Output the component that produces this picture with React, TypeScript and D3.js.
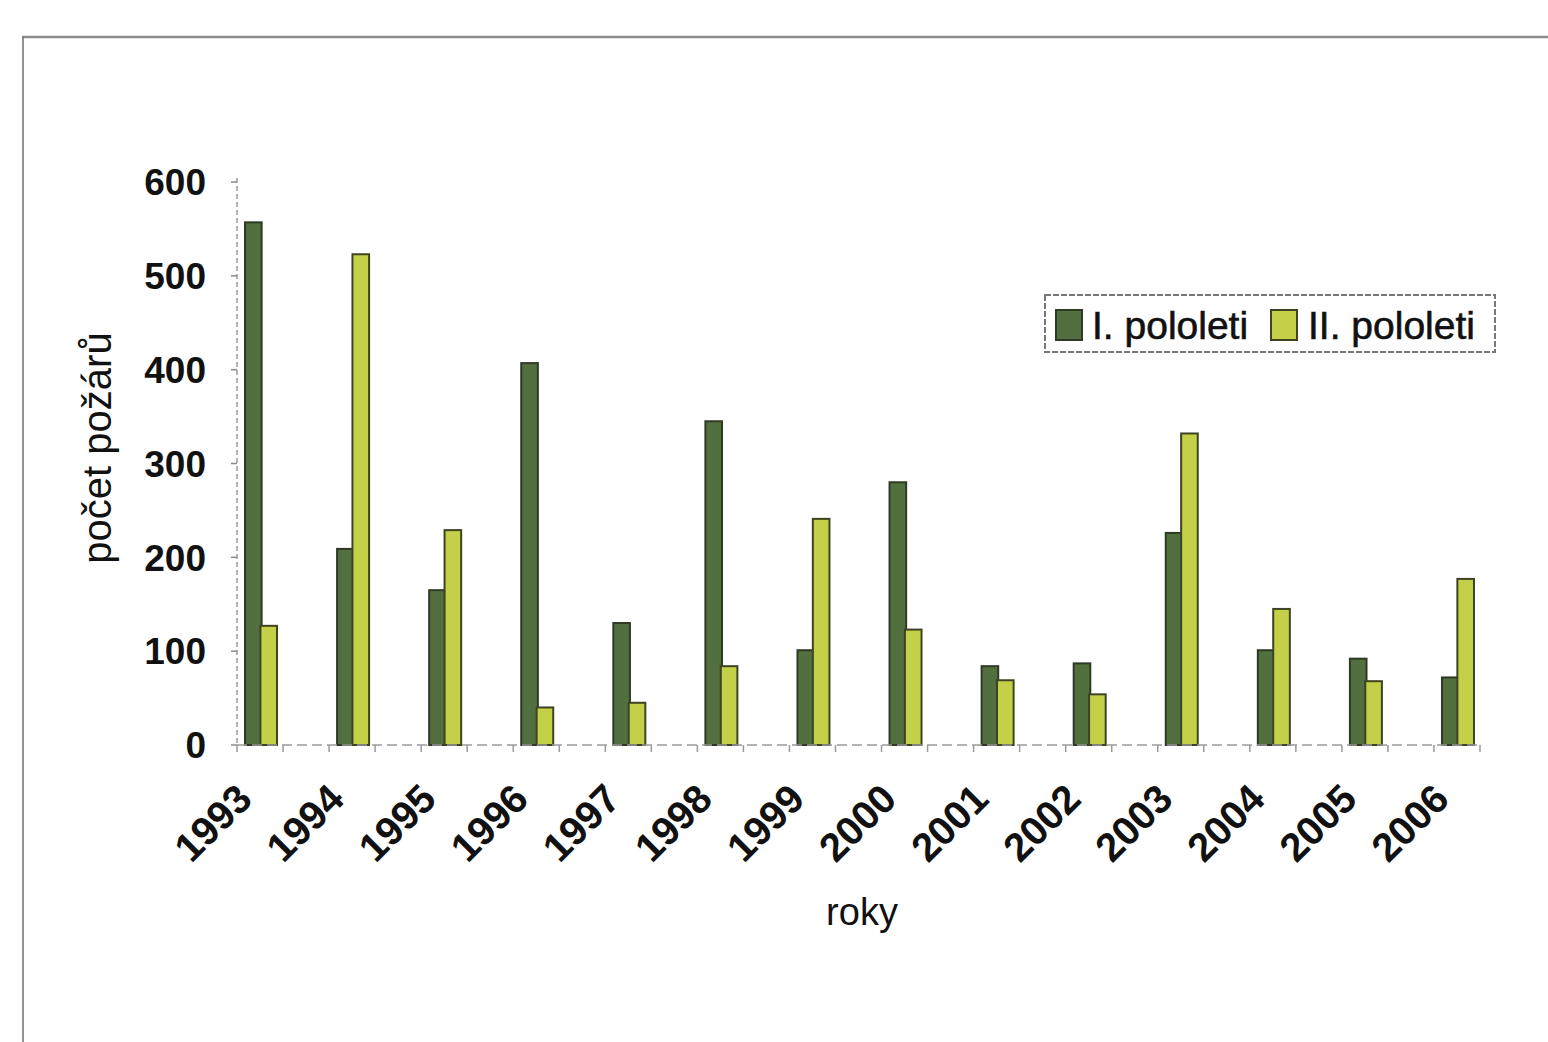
import React from "react";
import * as d3 from "d3";

const years = ["1993","1994","1995","1996","1997","1998","1999","2000","2001","2002","2003","2004","2005","2006"];
const firstHalf = [557, 209, 165, 407, 130, 345, 101, 280, 84, 87, 226, 101, 92, 72];
const secondHalf = [127, 523, 229, 40, 45, 84, 241, 123, 69, 54, 332, 145, 68, 177];
const yTicks = [0, 100, 200, 300, 400, 500, 600];
const seriesNames = ["I. pololeti", "II. pololeti"];
const seriesColors = ["#52703f", "#c4d148"];

// 27 category slots: years on even slots, empty slots between
const slots = d3.range(27).map((i) => `s${i}`);

export default function App() {
  const W = 1548, H = 1042;
  const x0 = 237, x1 = 1480, yTop = 182, yBase = 745;
  const x = d3.scaleBand<string>().domain(slots).range([x0, x1]).paddingInner(0).paddingOuter(0);
  const y = d3.scaleLinear().domain([0, 600]).range([yBase, yTop]);
  const sub = d3.scaleBand<string>().domain(["a", "b"]).range([-15, 17]).paddingInner(-0.08);
  const slotOf = (i: number) => `s${i * 2}`;
  const font = "'Liberation Sans', Arial, sans-serif";
  const tickEdges = d3.range(28).map((i) => x0 + i * x.bandwidth());

  return (
    <div style={{ position: "absolute", left: 0, top: 0 }}>
      <svg width={W} height={H} style={{ display: "block", background: "#fff" }} fontFamily={font}>
        {/* frame */}
        <line x1={22} y1={37} x2={W} y2={37} stroke="#8a8a8a" strokeWidth={2.5} />
        <line x1={23} y1={37} x2={23} y2={H} stroke="#6f6f6f" strokeWidth={1.5} />

        {/* y axis */}
        <line x1={x0} y1={yTop - 4} x2={x0} y2={yBase} stroke="#9a9a9a" strokeWidth={1.5} strokeDasharray="5,3" />
        {yTicks.map((t) => (
          <g key={t}>
            <line x1={x0 - 6} x2={x0} y1={y(t)} y2={y(t)} stroke="#8a8a8a" strokeWidth={1.5} />
            <text x={206} y={y(t)} dy="0.36em" textAnchor="end" fontSize={37} fontWeight="bold" fill="#111">{t}</text>
          </g>
        ))}
        <text transform={`translate(111,448) rotate(-90)`} textAnchor="middle" fontSize={40} fill="#111">počet požárů</text>

        {/* bars */}
        {years.map((yr, i) => {
          const c = (x(slotOf(i)) as number) + x.bandwidth() / 2;
          return (
            <g key={yr}>
              <rect x={c + (sub("a") as number)} y={y(firstHalf[i])} width={sub.bandwidth()} height={yBase - y(firstHalf[i])}
                fill={seriesColors[0]} stroke="#2f3a26" strokeWidth={2} />
              <rect x={c + (sub("b") as number)} y={y(secondHalf[i])} width={sub.bandwidth()} height={yBase - y(secondHalf[i])}
                fill={seriesColors[1]} stroke="#3e4422" strokeWidth={2} />
            </g>
          );
        })}

        {/* x axis */}
        <line x1={x0} y1={yBase} x2={x1} y2={yBase} stroke="#9a9a9a" strokeWidth={1.5} strokeDasharray="10,5" />
        {tickEdges.map((tx, i) => (
          <line key={i} x1={tx} x2={tx} y1={yBase} y2={yBase + 7} stroke="#9a9a9a" strokeWidth={1.5} />
        ))}
        {years.map((yr, i) => {
          const c = (x(slotOf(i)) as number) + x.bandwidth() / 2;
          return (
            <text key={yr} transform={`translate(${c - 16},${yBase + 46}) rotate(-45)`} textAnchor="end" dy="0.36em"
              fontSize={40} fontWeight="bold" fill="#111">{yr}</text>
          );
        })}
        <text x={862} y={925} textAnchor="middle" fontSize={38} fill="#111">roky</text>

        {/* legend */}
        <rect x={1045} y={295} width={450} height={57} fill="#fff" stroke="#777" strokeWidth={2} strokeDasharray="6,2" />
        <rect x={1056} y={310} width={26} height={30} fill={seriesColors[0]} stroke="#2f3a26" strokeWidth={2} />
        <text x={1092} y={325} dy="0.36em" fontSize={39} fill="#111" stroke="#111" strokeWidth={0.6}>{seriesNames[0]}</text>
        <rect x={1271} y={310} width={26} height={30} fill={seriesColors[1]} stroke="#3e4422" strokeWidth={2} />
        <text x={1308} y={325} dy="0.36em" fontSize={39} fill="#111" stroke="#111" strokeWidth={0.6}>{seriesNames[1]}</text>
      </svg>
    </div>
  );
}
